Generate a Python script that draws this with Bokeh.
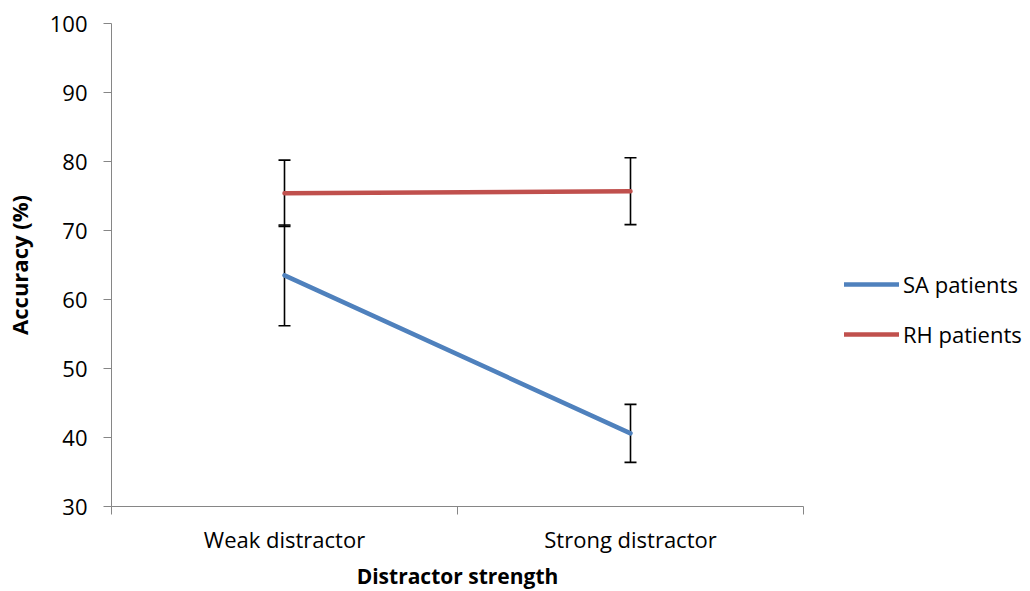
from bokeh.plotting import figure
from bokeh.models import (FixedTicker, Whisker, TeeHead, ColumnDataSource, Legend,
                          LegendItem, Range1d)
from bokeh.embed import file_html
from bokeh.resources import INLINE

categories = ["Weak distractor", "Strong distractor"]
sa_values = [63.5, 40.6]
sa_errors = [7.3, 4.2]
rh_values = [75.4, 75.7]
rh_errors = [4.8, 4.85]
y_ticks = [30, 40, 50, 60, 70, 80, 90, 100]

FONT = "Open Sans"
GRAY = "#868686"
BLUE = "#4F81BD"
RED = "#C0504D"

xs = [i + 0.5 for i in range(len(categories))]

p = figure(frame_width=692, frame_height=483, output_backend="svg", toolbar_location=None,
           x_range=Range1d(0, len(categories)), y_range=Range1d(y_ticks[0], y_ticks[-1]),
           min_border_left=110, min_border_right=217, min_border_top=23, min_border_bottom=60)
p.outline_line_color = None
p.xgrid.visible = False
p.ygrid.visible = False
p.background_fill_color = "white"
p.border_fill_color = "white"

sa_src = ColumnDataSource(dict(x=xs, y=sa_values,
                               upper=[v + e for v, e in zip(sa_values, sa_errors)],
                               lower=[v - e for v, e in zip(sa_values, sa_errors)]))
rh_src = ColumnDataSource(dict(x=xs, y=rh_values,
                               upper=[v + e for v, e in zip(rh_values, rh_errors)],
                               lower=[v - e for v, e in zip(rh_values, rh_errors)]))

sa_line = p.line("x", "y", source=sa_src, line_color=BLUE, line_width=4.5, line_cap="round")
rh_line = p.line("x", "y", source=rh_src, line_color=RED, line_width=4.5, line_cap="round")

for src in (sa_src, rh_src):
    w = Whisker(source=src, base="x", upper="upper", lower="lower", dimension="height",
                line_color="black", line_width=1.6,
                upper_head=TeeHead(size=12, line_color="black", line_width=1.6),
                lower_head=TeeHead(size=12, line_color="black", line_width=1.6))
    p.add_layout(w)

# y axis
ya = p.yaxis[0]
ya.ticker = FixedTicker(ticks=y_ticks)
ya.axis_line_color = GRAY
ya.major_tick_line_color = GRAY
ya.minor_tick_line_color = None
ya.major_tick_out = 8
ya.major_tick_in = 0
ya.major_label_standoff = 16
ya.major_label_text_font = FONT
ya.major_label_text_font_size = "22px"
ya.major_label_text_color = "black"
ya.axis_label = "Accuracy (%)"
ya.axis_label_text_font = FONT
ya.axis_label_text_font_size = "22px"
ya.axis_label_text_font_style = "bold"
ya.axis_label_text_color = "black"
ya.axis_label_standoff = 13

# x axis
xa = p.xaxis[0]
xa.ticker = FixedTicker(ticks=xs, minor_ticks=list(range(len(categories) + 1)))
xa.major_label_overrides = {x: c for x, c in zip(xs, categories)}
xa.axis_line_color = GRAY
xa.major_tick_line_color = None
xa.major_tick_out = 0
xa.major_tick_in = 0
xa.minor_tick_line_color = GRAY
xa.minor_tick_out = 8
xa.minor_tick_in = 0
xa.major_label_standoff = 9
xa.major_label_text_font = FONT
xa.major_label_text_font_size = "22px"
xa.major_label_text_color = "black"
xa.axis_label = "Distractor strength"
xa.axis_label_text_font = FONT
xa.axis_label_text_font_size = "21px"
xa.axis_label_text_font_style = "bold"
xa.axis_label_text_color = "black"
xa.axis_label_standoff = 5

legend = Legend(items=[LegendItem(label="SA patients", renderers=[sa_line]),
                       LegendItem(label="RH patients", renderers=[rh_line])],
                location=(41, 157), orientation="vertical",
                glyph_width=55, glyph_height=28, label_height=28, spacing=20,
                label_standoff=4, padding=0, margin=0,
                label_text_font=FONT, label_text_font_size="22px", label_text_color="black",
                border_line_color=None, background_fill_alpha=0)
p.add_layout(legend, "right")

open("out.html", "w").write(file_html(p, INLINE))
